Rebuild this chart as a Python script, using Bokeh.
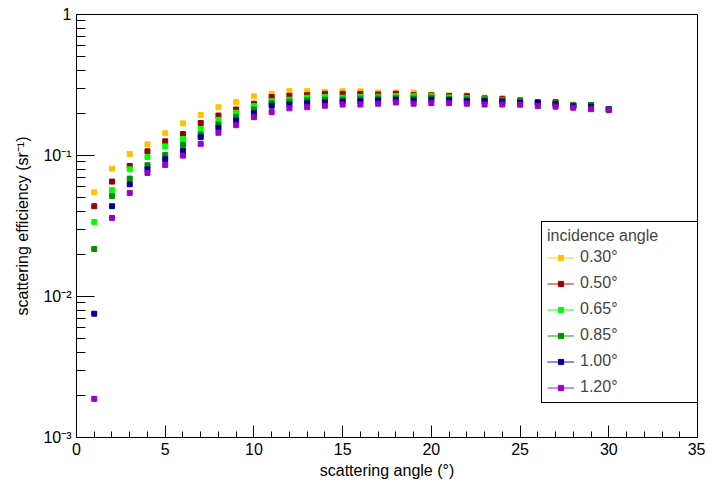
from bokeh.plotting import figure
from bokeh.models import Range1d, FixedTicker, Legend, LegendItem
from bokeh.embed import file_html
from bokeh.resources import INLINE

# ---------------- data ----------------
scattering_angle = list(range(1, 31))

eff_030 = [0.0548, 0.0807, 0.1025, 0.120, 0.144, 0.169, 0.194, 0.220, 0.239, 0.263,
           0.274, 0.286, 0.286, 0.283, 0.286, 0.285, 0.280, 0.280, 0.280, 0.270,
           0.267, 0.266, 0.257, 0.254, 0.246, 0.236, 0.236, 0.228, 0.224, 0.212]
eff_050 = [0.0437, 0.0653, 0.0843, 0.107, 0.126, 0.142, 0.170, 0.192, 0.212, 0.233,
           0.260, 0.265, 0.268, 0.274, 0.274, 0.274, 0.271, 0.274, 0.268, 0.267,
           0.264, 0.263, 0.254, 0.252, 0.246, 0.237, 0.239, 0.227, 0.228, 0.213]
eff_065 = [0.0338, 0.0570, 0.0798, 0.0976, 0.116, 0.131, 0.154, 0.179, 0.201, 0.224,
           0.243, 0.249, 0.257, 0.260, 0.257, 0.260, 0.261, 0.264, 0.263, 0.264,
           0.258, 0.255, 0.250, 0.248, 0.243, 0.236, 0.233, 0.229, 0.224, 0.212]
eff_085 = [0.0217, 0.0517, 0.0686, 0.0853, 0.101, 0.119, 0.141, 0.166, 0.188, 0.212,
           0.235, 0.241, 0.246, 0.249, 0.249, 0.253, 0.254, 0.255, 0.254, 0.257,
           0.251, 0.250, 0.248, 0.246, 0.242, 0.238, 0.234, 0.226, 0.228, 0.213]
eff_100 = [0.00755, 0.0437, 0.0625, 0.0798, 0.094, 0.108, 0.135, 0.157, 0.177, 0.199,
           0.2255, 0.230, 0.235, 0.238, 0.241, 0.243, 0.246, 0.249, 0.246, 0.249,
           0.247, 0.243, 0.243, 0.241, 0.238, 0.238, 0.231, 0.225, 0.222, 0.212]
eff_120 = [0.00188, 0.0361, 0.0543, 0.0752, 0.0857, 0.0998, 0.121, 0.145, 0.164, 0.187,
           0.203, 0.216, 0.220, 0.2255, 0.230, 0.230, 0.233, 0.238, 0.233, 0.235,
           0.235, 0.233, 0.230, 0.230, 0.229, 0.224, 0.222, 0.218, 0.213, 0.210]

series_values = [eff_030, eff_050, eff_065, eff_085, eff_100, eff_120]
series_labels = ["0.30°", "0.50°", "0.65°", "0.85°", "1.00°", "1.20°"]
series_colors = ["#ffc200", "#990000", "#00ff00", "#009000", "#000099", "#9900cc"]

x_ticks = [0, 5, 10, 15, 20, 25, 30, 35]
y_ticks = [0.001, 0.01, 0.1, 1]
y_tick_labels = ["10⁻³", "10⁻²", "10⁻¹", "1"]

FONT = "Liberation Sans"

# ---------------- figure ----------------
p = figure(frame_width=621, frame_height=423,
           y_axis_type="log",
           x_range=Range1d(0, 35), y_range=Range1d(1e-3, 1),
           output_backend="svg", toolbar_location=None,
           min_border_left=76, min_border_right=8, min_border_top=14, min_border_bottom=44)

p.xgrid.visible = False
p.ygrid.visible = False
p.outline_line_color = "black"
p.outline_line_width = 1
p.outline_line_alpha = 1
p.background_fill_color = "white"
p.border_fill_color = "white"

xa = p.xaxis[0]
ya = p.yaxis[0]
xa.ticker = FixedTicker(ticks=x_ticks, minor_ticks=list(range(0, 36)))
ya.ticker = FixedTicker(ticks=y_ticks,
                        minor_ticks=[m * 10.0 ** k for k in (-3, -2, -1) for m in range(2, 10)])
ya.major_label_overrides = dict(zip(y_ticks, y_tick_labels))

xa.major_tick_in, xa.major_tick_out = 12, 0
xa.minor_tick_in, xa.minor_tick_out = 6, 0
ya.major_tick_in, ya.major_tick_out = 18, 0
ya.minor_tick_in, ya.minor_tick_out = 9, 0

for ax in (xa, ya):
    ax.axis_line_color = "black"
    ax.major_tick_line_color = "black"
    ax.minor_tick_line_color = "black"
    ax.major_label_text_font = FONT
    ax.major_label_text_font_size = "16px"
    ax.major_label_text_color = "black"
    ax.axis_label_text_font = FONT
    ax.axis_label_text_font_size = "16px"
    ax.axis_label_text_font_style = "normal"
    ax.axis_label_text_color = "black"

xa.axis_label = "scattering angle (°)"
ya.axis_label = "scattering efficiency (sr⁻¹)"
xa.major_label_standoff = 5
ya.major_label_standoff = 5
xa.axis_label_standoff = 4
ya.axis_label_standoff = 9

items = []
for vals, lab, col in zip(series_values, series_labels, series_colors):
    # one-point line: invisible in the plot, gives the legend its line sample
    ln = p.line(x=scattering_angle[:1], y=vals[:1], line_color=col, line_width=1.2, line_alpha=0.75)
    sc = p.scatter(scattering_angle, vals, marker="square", size=5,
                   fill_color=col, line_color=col)
    items.append(LegendItem(label=lab, renderers=[ln, sc]))

legend = Legend(items=items, title="incidence angle", location=(465, 34),
                label_text_font=FONT, label_text_font_size="16px",
                title_text_font=FONT, title_text_font_size="16px",
                title_text_font_style="normal", title_standoff=2,
                glyph_width=27, glyph_height=13, label_height=20,
                label_standoff=6, label_width=113, spacing=6, padding=5, margin=0,
                border_line_color="black", border_line_width=1, border_line_alpha=1,
                background_fill_color="white", background_fill_alpha=1)
p.add_layout(legend, "center")

open("out.html", "w").write(file_html(p, INLINE))
